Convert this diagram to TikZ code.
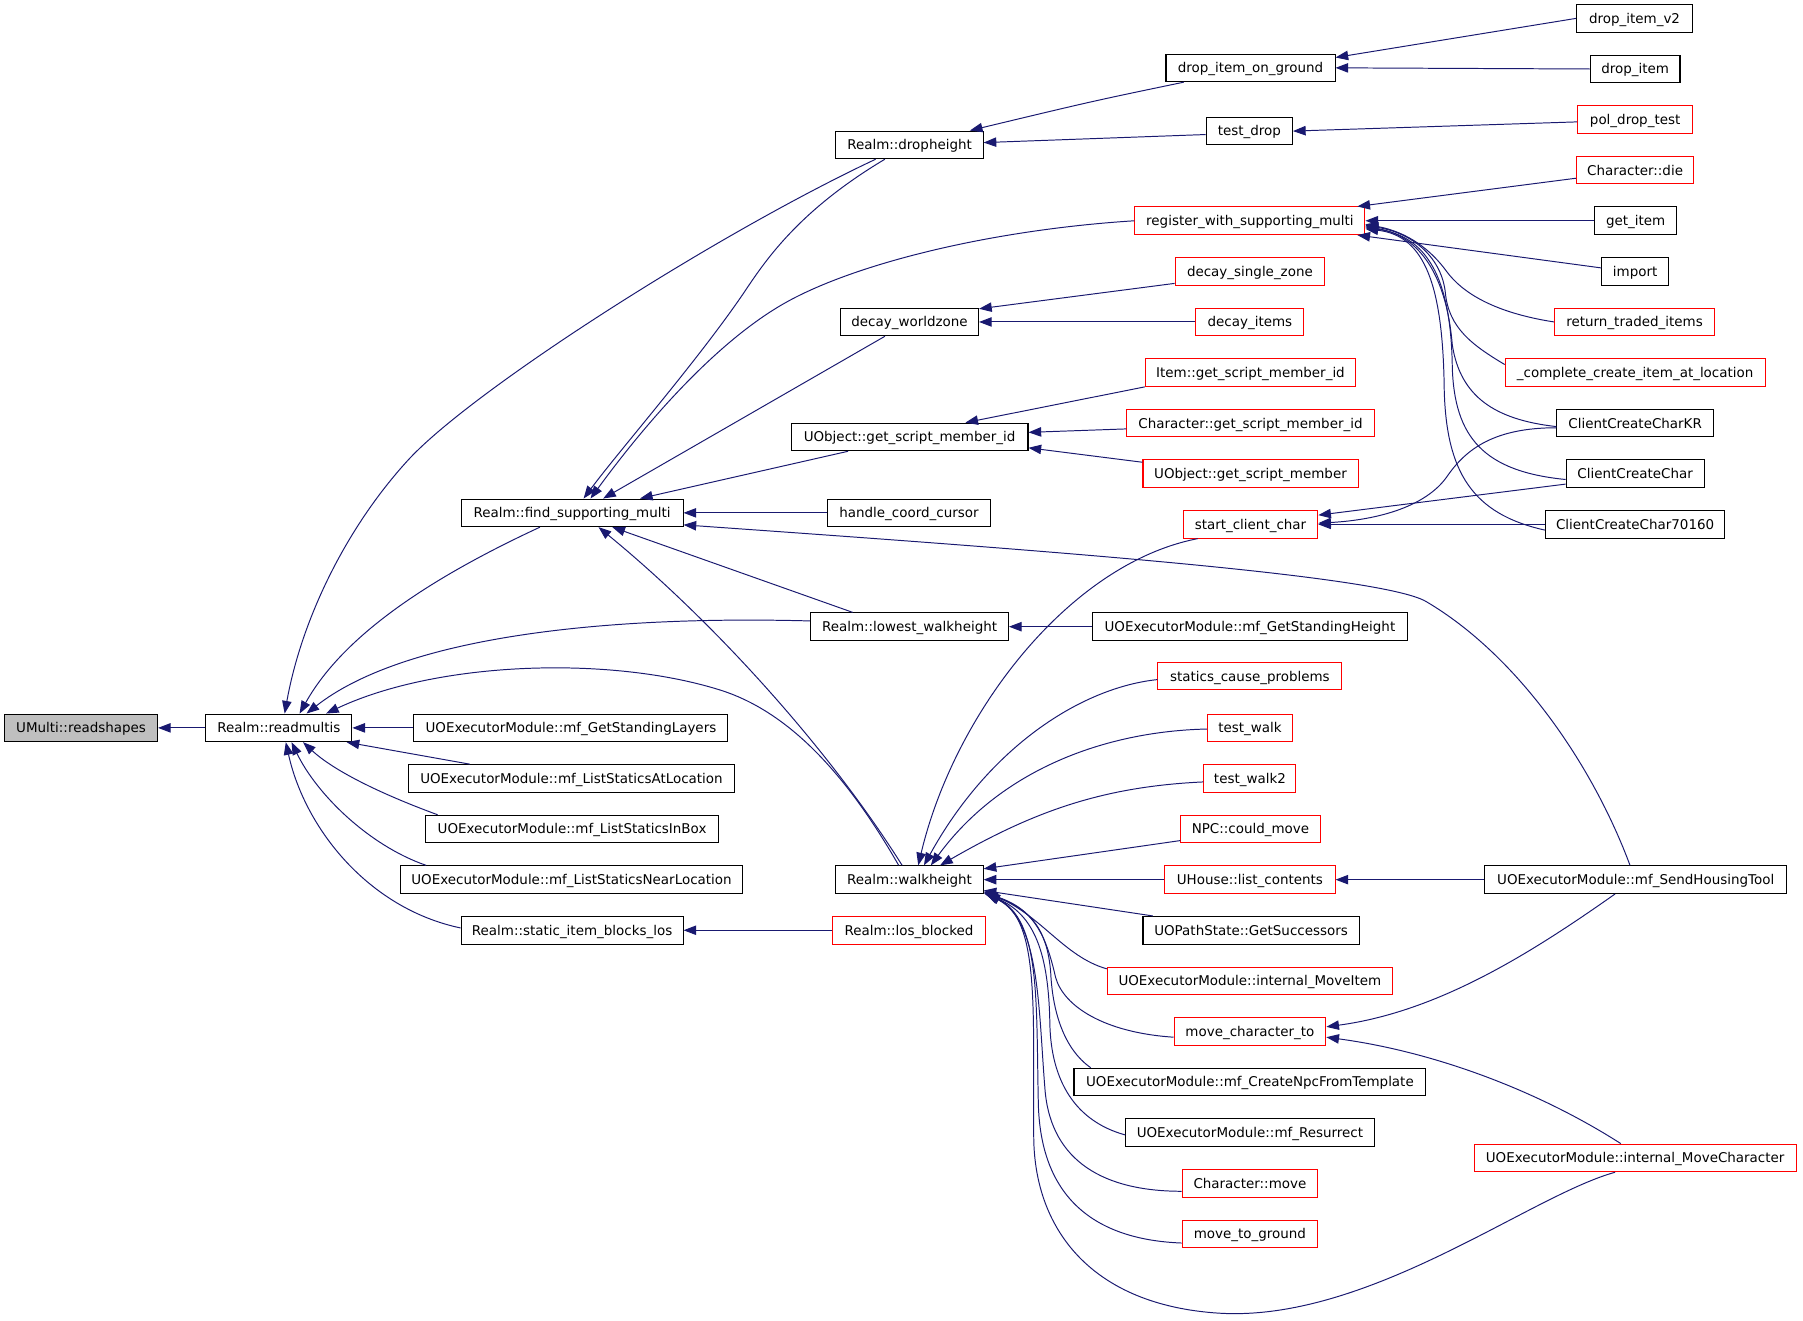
\documentclass[tikz,border=0pt]{standalone}
\usepackage{fontspec}
\setmainfont{DejaVu Sans}
\usetikzlibrary{arrows.meta}
\definecolor{edgeblue}{HTML}{191970}
\definecolor{nodegray}{HTML}{BFBFBF}
\begin{document}
\begin{tikzpicture}[x=1pt,y=-1pt,
  nb/.style={draw=black, line width=0.9pt, fill=white, inner sep=0pt, minimum height=24pt,
    text height=10pt, text depth=1.5pt, font=\fontsize{11.7}{14}\selectfont},
  nr/.style={nb, draw=red},
  ng/.style={nb, fill=nodegray},
  cl/.style={draw=edgeblue, line width=0.85pt, -{Triangle[length=11pt,width=8.2pt]}}]
\fill[white] (0,0) rectangle (1568,1148);
\useasboundingbox (0,0) rectangle (1568,1148);
% column 0-1
\node[ng, minimum width=133pt] (readshapes) at (70.5,633) {UMulti::readshapes};
\node[nb, minimum width=127pt] (readmultis) at (242.5,633) {Realm::readmultis};
% column 2
\node[nb, minimum width=193pt] (fsm) at (497.5,446) {Realm::find\_supporting\_multi};
\node[nb, minimum width=273pt] (gsl) at (496.5,633) {UOExecutorModule::mf\_GetStandingLayers};
\node[nb, minimum width=284pt] (lsal) at (497,677) {UOExecutorModule::mf\_ListStaticsAtLocation};
\node[nb, minimum width=255pt] (lsib) at (497.5,721) {UOExecutorModule::mf\_ListStaticsInBox};
\node[nb, minimum width=298pt] (lsnl) at (497,765) {UOExecutorModule::mf\_ListStaticsNearLocation};
\node[nb, minimum width=193pt] (sibl) at (497.5,809) {Realm::static\_item\_blocks\_los};
% column 3
\node[nb, minimum width=128pt] (dropheight) at (791,126) {Realm::dropheight};
\node[nb, minimum width=120pt] (dwz) at (791,280) {decay\_worldzone};
\node[nb, minimum width=206pt] (ugsmi) at (791,380) {UObject::get\_script\_member\_id};
\node[nb, minimum width=141pt] (hcc) at (790.5,446) {handle\_coord\_cursor};
\node[nb, minimum width=172pt] (lwh) at (791,545) {Realm::lowest\_walkheight};
\node[nb, minimum width=128pt] (wh) at (791,765) {Realm::walkheight};
\node[nr, minimum width=133pt] (losb) at (790.5,809) {Realm::los\_blocked};
% column 4
\node[nb, minimum width=147pt] (diog) at (1087.5,59) {drop\_item\_on\_ground};
\node[nb, minimum width=75pt] (tdrop) at (1086.5,114) {test\_drop};
\node[nr, minimum width=200pt] (rwsm) at (1087,192) {register\_with\_supporting\_multi};
\node[nr, minimum width=130pt] (dsz) at (1087,236) {decay\_single\_zone};
\node[nr, minimum width=94pt] (ditems) at (1087,280) {decay\_items};
\node[nr, minimum width=183pt] (igsmi) at (1087.5,324) {Item::get\_script\_member\_id};
\node[nr, minimum width=215pt] (cgsmi) at (1087.5,368) {Character::get\_script\_member\_id};
\node[nr, minimum width=187pt] (ugsm) at (1087.5,412) {UObject::get\_script\_member};
\node[nr, minimum width=117pt] (scc) at (1087.5,456) {start\_client\_char};
\node[nb, minimum width=274pt] (gsh) at (1087,545) {UOExecutorModule::mf\_GetStandingHeight};
\node[nr, minimum width=160pt] (scp) at (1087,588) {statics\_cause\_problems};
\node[nr, minimum width=74pt] (twalk) at (1087,633) {test\_walk};
\node[nr, minimum width=80pt] (twalk2) at (1087,677) {test\_walk2};
\node[nr, minimum width=121pt] (npc) at (1087.5,721) {NPC::could\_move};
\node[nr, minimum width=148pt] (ulc) at (1087,765) {UHouse::list\_contents};
\node[nb, minimum width=188pt] (gsucc) at (1088,809) {UOPathState::GetSuccessors};
\node[nr, minimum width=248pt] (imi) at (1087,853) {UOExecutorModule::internal\_MoveItem};
\node[nr, minimum width=132pt] (mct) at (1087,897) {move\_character\_to};
\node[nb, minimum width=306pt] (cnpc) at (1087,941) {UOExecutorModule::mf\_CreateNpcFromTemplate};
\node[nb, minimum width=216pt] (resur) at (1087,985) {UOExecutorModule::mf\_Resurrect};
\node[nr, minimum width=118pt] (cmove) at (1087,1029) {Character::move};
\node[nr, minimum width=118pt] (mtg) at (1087,1073) {move\_to\_ground};
% column 5
\node[nb, minimum width=101pt] (div2) at (1421.5,16) {drop\_item\_v2};
\node[nb, minimum width=78pt] (ditem) at (1422,60) {drop\_item};
\node[nr, minimum width=100pt] (pdt) at (1422,104) {pol\_drop\_test};
\node[nr, minimum width=102pt] (cdie) at (1422,148) {Character::die};
\node[nb, minimum width=71pt] (gitem) at (1422.5,192) {get\_item};
\node[nb, minimum width=58pt] (import) at (1422,236) {import};
\node[nr, minimum width=139pt] (rti) at (1421.5,280) {return\_traded\_items};
\node[nr, minimum width=226pt] (ccial) at (1422,324) {\_complete\_create\_item\_at\_location};
\node[nb, minimum width=136pt] (cckr) at (1422,368) {ClientCreateCharKR};
\node[nb, minimum width=120pt] (cc) at (1422,412) {ClientCreateChar};
\node[nb, minimum width=156pt] (cc70) at (1422,456) {ClientCreateChar70160};
\node[nb, minimum width=263pt] (sht) at (1422.5,765) {UOExecutorModule::mf\_SendHousingTool};
\node[nr, minimum width=280pt] (imc) at (1422,1007) {UOExecutorModule::internal\_MoveCharacter};

% ---- edges into readshapes / readmultis
\draw[cl] (readmultis.west) -- (readshapes.east);
\draw[cl] (gsl.west) -- (readmultis.east);
\draw[cl] ([xshift=54pt]lsal.north west) -- ([xshift=-5pt]readmultis.south east);
\draw[cl] ([xshift=11pt]lsib.north west) .. controls (330,690) and (290,670) .. ([xshift=85pt]readmultis.south west);
\draw[cl] ([xshift=23pt]lsnl.north west) .. controls (320,735) and (275,690) .. ([xshift=75pt]readmultis.south west);
\draw[cl] ([yshift=2pt]sibl.west) .. controls (320,790) and (265,720) .. ([xshift=70pt]readmultis.south west);
\draw[cl] ([xshift=69pt]fsm.south west) .. controls (380,500) and (300,550) .. ([xshift=82pt]readmultis.north west);
\draw[cl] ([xshift=35pt]dropheight.south west) .. controls (620,205) and (410,340) .. (355,400)
   .. controls (300,460) and (262,540) .. ([xshift=69pt]readmultis.north west);
\draw[cl] ([yshift=5pt]lwh.west) .. controls (520,535) and (350,555) .. ([xshift=88pt]readmultis.north west);
\draw[cl] ([xshift=55pt]wh.north west) .. controls (740,680) and (690,620) .. (626,600)
   .. controls (530,570) and (380,575) .. ([xshift=105pt]readmultis.north west);

% ---- edges into find_supporting_multi
\draw[cl] ([xshift=43pt]dropheight.south west) .. controls (700,180) and (670,220) .. (650,250)
   .. controls (610,310) and (540,390) .. ([xshift=107pt]fsm.north west);
\draw[cl] (rwsm.west) .. controls (860,200) and (740,230) .. (680,265)
   .. controls (620,300) and (560,370) .. ([xshift=113pt]fsm.north west);
\draw[cl] ([xshift=39pt]dwz.south west) -- ([xshift=124pt]fsm.north west);
\draw[cl] ([xshift=50pt]ugsmi.south west) -- ([xshift=156pt]fsm.north west);
\draw[cl] (hcc.west) -- (fsm.east);
\draw[cl] ([xshift=37pt]lwh.north west) -- ([xshift=132pt]fsm.south west);
\draw[cl] ([xshift=58pt]wh.north west) .. controls (720,650) and (620,540) .. ([xshift=120pt]fsm.south west);
\draw[cl] ([xshift=127pt]sht.north west) .. controls (1385,665) and (1320,570) .. (1240,523)
   .. controls (1200,500) and (900,478) .. ([yshift=2pt]fsm.south east);

% ---- dropheight branch
\draw[cl] ([xshift=16pt]diog.south west) .. controls (950,88) .. ([xshift=-12pt]dropheight.north east);
\draw[cl] ([yshift=-3pt]tdrop.west) -- ([yshift=2pt]dropheight.east);
\draw[cl] (div2.west) -- ([yshift=9pt]diog.east);
\draw[cl] (ditem.west) -- (diog.east);
\draw[cl] ([yshift=-2pt]pdt.west) -- (tdrop.east);

% ---- decay_worldzone / get_script_member_id
\draw[cl] ([yshift=2pt]dsz.south west) -- ([yshift=-1pt]dwz.north east);
\draw[cl] (ditems.west) -- (dwz.east);
\draw[cl] (igsmi.south west) -- ([xshift=152pt]ugsmi.north west);
\draw[cl] ([yshift=-5pt]cgsmi.west) -- ([yshift=4pt]ugsmi.east);
\draw[cl] ([yshift=10pt]ugsm.west) -- ([yshift=3pt]ugsmi.south east);

% ---- register_with_supporting_multi
\draw[cl] ([yshift=-7pt]cdie.west) -- ([xshift=-7pt]rwsm.north east);
\draw[cl] (gitem.west) -- (rwsm.east);
\draw[cl] ([yshift=3pt]import.west) -- ([xshift=-7pt]rwsm.south east);
\draw[cl] (rti.west) .. controls (1300,272) and (1272,255) .. (1258,236)
   .. controls (1245,218) and (1225,202) .. ([yshift=-3pt]rwsm.east);
\draw[cl] ([yshift=7pt]ccial.west) .. controls (1280,300) and (1260,285) .. (1257,255)
   .. controls (1254,225) and (1230,203) .. ([yshift=-4pt]rwsm.east);
\draw[cl] ([yshift=-3pt]cckr.west) .. controls (1300,365) and (1270,345) .. (1263,300)
   .. controls (1258,240) and (1235,205) .. ([yshift=-5pt]rwsm.east);
\draw[cl] ([yshift=-5pt]cc.west) .. controls (1290,410) and (1265,380) .. (1263,320)
   .. controls (1262,240) and (1240,205) .. ([yshift=-6pt]rwsm.east);
\draw[cl] ([yshift=-5pt]cc70.west) .. controls (1280,447) and (1258,410) .. (1256,340)
   .. controls (1255,250) and (1240,205) .. ([yshift=-7pt]rwsm.east);

% ---- start_client_char
\draw[cl] ([yshift=-4pt]cckr.west) .. controls (1300,372) and (1275,390) .. (1258,415)
   .. controls (1240,440) and (1200,452) .. ([yshift=1pt]scc.east);
\draw[cl] ([yshift=-9pt]cc.west) -- ([yshift=8pt]scc.east);
\draw[cl] (cc70.west) -- (scc.east);

% ---- misc straight
\draw[cl] (gsh.west) -- (lwh.east);
\draw[cl] (losb.west) -- (sibl.east);
\draw[cl] (ulc.west) -- (wh.east);
\draw[cl] (sht.west) -- (ulc.east);

% ---- walkheight fan
\draw[cl] ([xshift=13pt]scc.south west) .. controls (930,490) and (830,620) .. ([xshift=72pt]wh.north west);
\draw[cl] ([yshift=-3pt]scp.west) .. controls (940,598) and (860,650) .. ([xshift=77pt]wh.north west);
\draw[cl] ([yshift=-1pt]twalk.west) .. controls (960,636) and (870,670) .. ([xshift=83pt]wh.north west);
\draw[cl] ([yshift=-3pt]twalk2.west) .. controls (960,684) and (900,705) .. ([xshift=91pt]wh.north west);
\draw[cl] ([yshift=-10pt]npc.west) -- ([yshift=-3pt]wh.north east);
\draw[cl] ([xshift=9pt]gsucc.north west) -- ([yshift=3pt]wh.south east);
\draw[cl] ([yshift=-2pt]imi.north west) .. controls (925,832) and (905,795) .. ([yshift=2pt]wh.south east);
\draw[cl] ([yshift=-5pt]mct.west) .. controls (960,898) and (925,875) .. (918,850)
   .. controls (910,815) and (900,790) .. ([yshift=1pt]wh.south east);
\draw[cl] ([xshift=15pt]cnpc.north west) .. controls (925,912) and (916,880) .. (914,850)
   .. controls (912,810) and (897,790) .. ([xshift=1pt]wh.south east);
\draw[cl] ([yshift=-2pt]resur.west) .. controls (935,975) and (914,940) .. (913,890)
   .. controls (912,830) and (900,795) .. ([xshift=2pt]wh.south east);
\draw[cl] ([yshift=-7pt]cmove.west) .. controls (960,1036) and (915,1010) .. (909,950)
   .. controls (903,880) and (905,800) .. ([xshift=2pt]wh.south east);
\draw[cl] ([yshift=-8pt]mtg.west) .. controls (950,1078) and (905,1040) .. (903,960)
   .. controls (901,870) and (905,800) .. ([xshift=3pt]wh.south east);
\draw[cl] ([xshift=123pt]imc.south west) .. controls (1330,1040) and (1190,1150) .. (1060,1142)
   .. controls (950,1135) and (900,1070) .. (899,990)
   .. controls (898,880) and (905,800) .. ([xshift=3pt]wh.south east);

% ---- move_character_to
\draw[cl] ([xshift=114pt]sht.south west) .. controls (1330,830) and (1250,880) .. ([yshift=4pt]mct.east);
\draw[cl] ([xshift=128pt]imc.north west) .. controls (1340,950) and (1250,915) .. ([yshift=-5pt]mct.east);
\end{tikzpicture}
\end{document}
